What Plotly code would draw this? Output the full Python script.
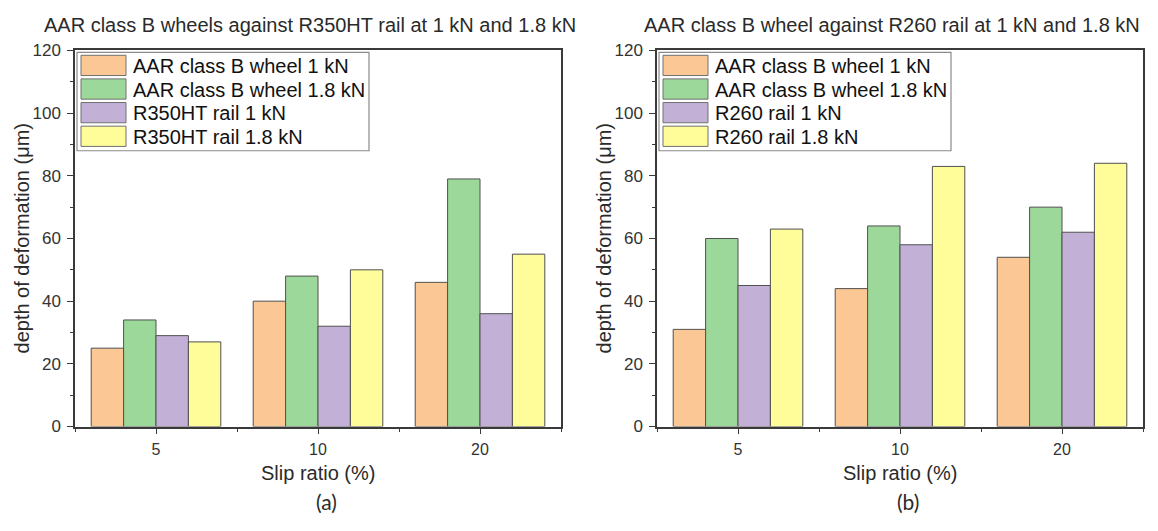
import plotly.graph_objects as go

# Slip ratio categories (%)
slip_ratio = ["5", "10", "20"]

# Panel (a): AAR class B wheels against R350HT rail, depth of deformation (μm)
names_a = ["AAR class B wheel 1 kN", "AAR class B wheel 1.8 kN",
           "R350HT rail 1 kN", "R350HT rail 1.8 kN"]
wheel_1kn_a = [25, 40, 46]
wheel_18kn_a = [34, 48, 79]
rail_1kn_a = [29, 32, 36]
rail_18kn_a = [27, 50, 55]

# Panel (b): AAR class B wheel against R260 rail, depth of deformation (μm)
names_b = ["AAR class B wheel 1 kN", "AAR class B wheel 1.8 kN",
           "R260 rail 1 kN", "R260 rail 1.8 kN"]
wheel_1kn_b = [31, 44, 54]
wheel_18kn_b = [60, 64, 70]
rail_1kn_b = [45, 58, 62]
rail_18kn_b = [63, 83, 84]

titles = ["AAR class B wheels against R350HT rail at 1 kN and 1.8 kN",
          "AAR class B wheel against R260 rail at 1 kN and 1.8 kN"]
panel_tags = ["(a)", "(b)"]
x_title = "Slip ratio (%)"
y_title = "depth of deformation (μm)"

colors = ["#FBC794", "#9DD89B", "#C2B0D6", "#FFFC9A"]
edge = "#505050"
axis_col = "#3a3a3a"
text_col = "#2a2a2a"
FONT = "Liberation Sans"
TAG_FONT = "Lato"

W, H = 1158, 531
# plot-area pixel boxes (left, right, top, bottom)
boxes = [(75, 561, 43, 433), (657, 1143, 43, 433)]


def px(x):
    return x / W


def py(y):
    return 1 - y / H


fig = go.Figure()
panels = [
    (names_a, [wheel_1kn_a, wheel_18kn_a, rail_1kn_a, rail_18kn_a]),
    (names_b, [wheel_1kn_b, wheel_18kn_b, rail_1kn_b, rail_18kn_b]),
]
xpos = list(range(len(slip_ratio)))

shapes = []
annotations = []

for i, (names, series) in enumerate(panels):
    xa = "x" if i == 0 else "x2"
    ya = "y" if i == 0 else "y2"
    for name, vals, col in zip(names, series, colors):
        fig.add_trace(go.Bar(
            x=xpos, y=vals, name=name, xaxis=xa, yaxis=ya,
            marker=dict(color=col, line=dict(color=edge, width=1)),
            showlegend=False, offsetgroup=name,
        ))

    left, right, top, bottom = boxes[i]
    sfx = "" if i == 0 else "2"
    fig.layout["xaxis" + sfx] = dict(
        domain=[px(left), px(right)], anchor="y" + sfx,
        range=[-0.5, 2.5], tickmode="array", tickvals=xpos, ticktext=slip_ratio,
        showline=True, linecolor=axis_col, linewidth=1.5, mirror=True,
        showgrid=False, zeroline=False,
        ticks="outside", ticklen=6, tickwidth=1.3, tickcolor=axis_col,
        tickfont=dict(family=FONT, size=16, color="#333333"),
        ticklabelstandoff=2,
        minor=dict(tickmode="array", tickvals=[-0.5, 0.5, 1.5, 2.5],
                   ticks="outside", ticklen=4, tickwidth=1.2, tickcolor=axis_col),
    )
    fig.layout["yaxis" + sfx] = dict(
        domain=[py(bottom), py(top)], anchor="x" + sfx,
        range=[0, 120], tick0=0, dtick=20,
        showline=True, linecolor=axis_col, linewidth=1.5, mirror=True,
        showgrid=False, zeroline=False,
        ticks="outside", ticklen=6, tickwidth=1.3, tickcolor=axis_col,
        tickfont=dict(family=FONT, size=17, color="#333333"),
        ticklabelstandoff=3,
        minor=dict(tick0=0, dtick=10, ticks="outside", ticklen=3,
                   tickwidth=1.2, tickcolor=axis_col),
    )

    cx = (left + right) / 2
    annotations += [
        dict(text=titles[i], x=px(cx - 8), y=py(17), xref="paper", yref="paper",
             showarrow=False, xanchor="center", yanchor="middle",
             font=dict(family=FONT, size=20, color=text_col)),
        dict(text=x_title, x=px(cx), y=py(481), xref="paper", yref="paper",
             showarrow=False, xanchor="center", yanchor="middle",
             font=dict(family=FONT, size=20, color=text_col)),
        dict(text=panel_tags[i], x=px(cx + 8), y=py(511), xref="paper", yref="paper",
             showarrow=False, xanchor="center", yanchor="middle",
             font=dict(family=TAG_FONT, size=21, color=text_col)),
        dict(text=y_title, x=px(left - 53), y=py((top + bottom) / 2),
             xref="paper", yref="paper", textangle=-90,
             showarrow=False, xanchor="center", yanchor="middle",
             font=dict(family=FONT, size=20, color=text_col)),
    ]

    # legend box with swatches
    lx0, ly0 = left + 2, top + 2
    shapes.append(dict(type="rect", xref="paper", yref="paper",
                       x0=px(lx0), x1=px(lx0 + 292), y0=py(ly0), y1=py(ly0 + 102),
                       line=dict(color="#8a8a8a", width=1.2), fillcolor="white", layer="above"))
    for k, (name, col) in enumerate(zip(names, colors)):
        sy = ly0 + 3 + k * 24.5
        shapes.append(dict(type="rect", xref="paper", yref="paper",
                           x0=px(lx0 + 4), x1=px(lx0 + 49), y0=py(sy), y1=py(sy + 21),
                           line=dict(color="#707070", width=1), fillcolor=col, layer="above"))
        annotations.append(dict(text=name, x=px(lx0 + 54), y=py(sy + 11),
                                xref="paper", yref="paper", showarrow=False,
                                xanchor="left", yanchor="middle",
                                font=dict(family=FONT, size=20, color="#111111")))

fig.update_layout(
    width=W, height=H, margin=dict(l=0, r=0, t=0, b=0),
    paper_bgcolor="white", plot_bgcolor="white",
    barmode="group", bargap=0.2, bargroupgap=0,
    shapes=shapes, annotations=annotations,
)

fig.write_html("out.html")
